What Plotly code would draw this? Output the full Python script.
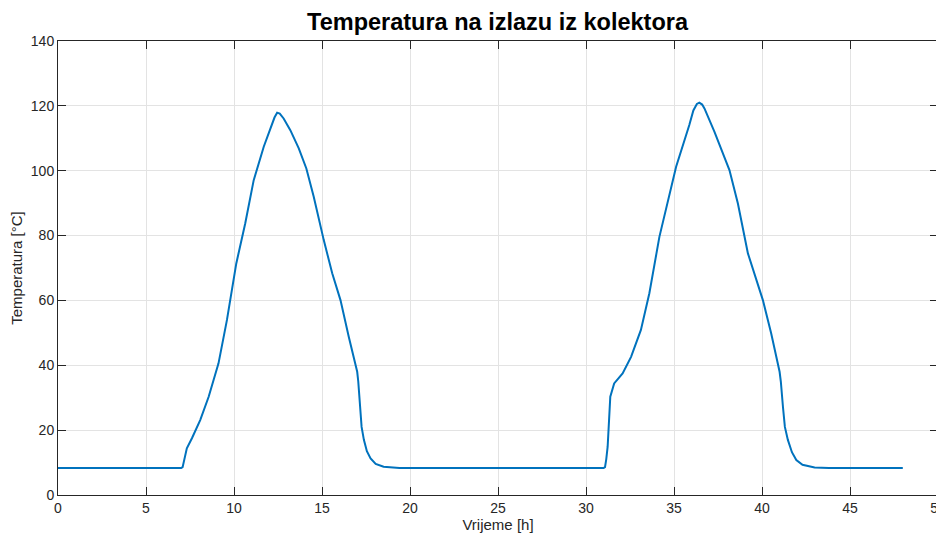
import plotly.graph_objects as go

time_h = [0, 7.0, 7.08, 7.15, 7.32, 7.61, 8.08, 8.56, 9.12, 9.6, 10.13, 10.64, 11.12, 11.69, 12.1, 12.3, 12.45,
          12.6, 12.82, 13.2, 13.68, 14.11, 14.53, 15.1, 15.58, 16.05, 16.52, 17.0, 17.06, 17.15, 17.25, 17.38,
          17.55, 17.76, 18.05, 18.5, 19.4, 31.0, 31.08, 31.15, 31.23, 31.38, 31.6, 32.08, 32.56, 33.12, 33.6, 34.17,
          34.64, 35.12, 35.87, 36.1, 36.3, 36.44, 36.6, 36.73, 37.3, 38.15, 38.63, 39.2, 40.05, 40.52,
          41.0, 41.07, 41.19, 41.3, 41.47, 41.7, 41.95, 42.3, 42.99, 43.8, 48]
temp_c = [8.3, 8.3, 8.6, 10.5, 14.4, 17.5, 23.1, 30.3, 40.6, 54, 71.4, 83.8, 97.1, 107.4, 113.5, 116.4, 117.9,
          117.6, 116.1, 112.5, 106.9, 100.7, 92, 78.6, 68.4, 60.1, 48.8, 38, 35, 27.2, 21, 17,
          13.5, 11.3, 9.6, 8.7, 8.3, 8.3, 8.6, 11, 14.9, 30.3, 34.4, 37.5, 42.6, 50.9, 62.2, 79.6,
          89.9, 101.2, 114.1, 118.6, 120.6, 121, 120.4, 119.2, 112, 100.2, 89.9, 74.5, 60.1, 49.9,
          38, 35, 27.2, 21, 17, 13.2, 10.8, 9.3, 8.5, 8.3, 8.3]

x_ticks = list(range(0, 51, 5))
y_ticks = list(range(0, 141, 20))

fig = go.Figure()
fig.add_trace(go.Scatter(x=time_h, y=temp_c, mode="lines",
                         line=dict(color="#0072BD", width=2, shape="linear"),
                         showlegend=False))

font_family = "Liberation Sans, Arial"
axis_common = dict(showline=True, linecolor="#262626", linewidth=1, mirror="ticks",
                   ticks="inside", ticklen=8, tickcolor="#262626", showgrid=True,
                   gridcolor="#e3e3e3", gridwidth=1, zeroline=False, automargin=False,
                   ticklabeloverflow="allow",
                   tickfont=dict(family=font_family, size=14, color="#262626"))

fig.update_layout(
    width=936, height=529,
    margin=dict(l=50, r=6, t=33, b=42),
    paper_bgcolor="white", plot_bgcolor="white",
    title=dict(text="<b>Temperatura na izlazu iz kolektora</b>", x=0.523, xanchor="center",
               y=0.9735, yanchor="middle", automargin=False,
               font=dict(family=font_family, size=23.5, color="black")),
    xaxis=dict(range=[0, 50], tickvals=x_ticks, **axis_common,
               title=dict(text="Vrijeme [h]", standoff=3,
                          font=dict(family=font_family, size=15, color="#262626"))),
    yaxis=dict(range=[0, 140], tickvals=y_ticks, **axis_common,
               title=dict(text="Temperatura [°C]", standoff=10,
                          font=dict(family=font_family, size=15, color="#262626"))),
)

fig.write_html("out.html")
